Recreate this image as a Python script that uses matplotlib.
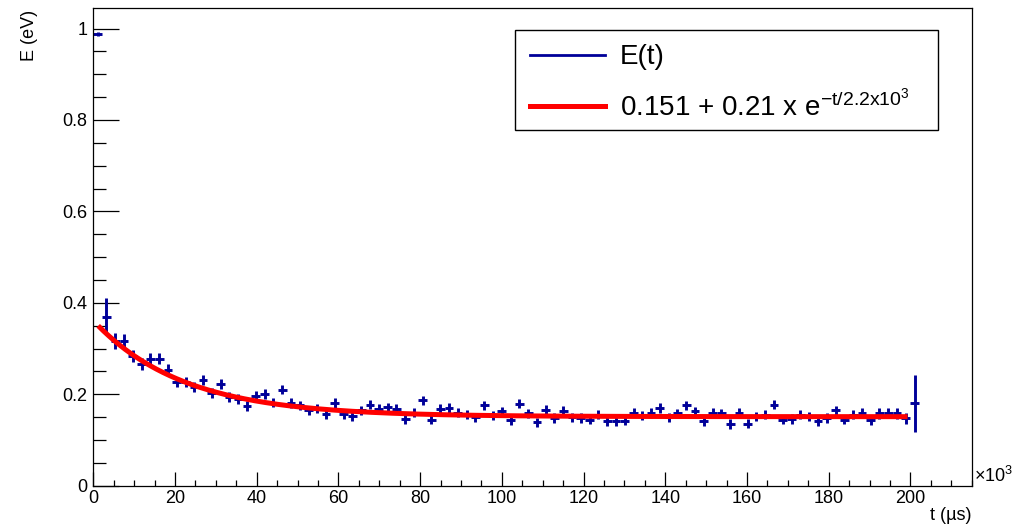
import numpy as np
import matplotlib
matplotlib.use("Agg")
import matplotlib.pyplot as plt
from matplotlib.lines import Line2D
from matplotlib.patches import Rectangle
from matplotlib.ticker import MultipleLocator, FixedLocator

plt.rcParams['font.family'] = ['Liberation Sans', 'DejaVu Sans']
plt.rcParams['mathtext.fontset'] = 'custom'
plt.rcParams['mathtext.rm'] = 'Liberation Sans'
plt.rcParams['mathtext.it'] = 'Liberation Sans'

# Histogram binning (t in units of 10^3 us)
t_min, t_max, n_bins = 0.0, 215.0, 100
bin_width = (t_max - t_min) / n_bins

# Mean energy per filled bin (eV)
energy = [
    0.988, 0.370, 0.316, 0.316, 0.284, 0.267, 0.278, 0.278, 0.254, 0.226,
    0.226, 0.216, 0.231, 0.203, 0.223, 0.194, 0.190, 0.174, 0.196, 0.201,
    0.182, 0.210, 0.181, 0.176, 0.165, 0.168, 0.157, 0.181, 0.157, 0.152,
    0.165, 0.177, 0.168, 0.172, 0.168, 0.146, 0.160, 0.187, 0.144, 0.168,
    0.170, 0.160, 0.155, 0.150, 0.176, 0.153, 0.163, 0.143, 0.179, 0.158,
    0.139, 0.166, 0.148, 0.164, 0.150, 0.148, 0.144, 0.155, 0.141, 0.141,
    0.142, 0.160, 0.154, 0.159, 0.170, 0.150, 0.158, 0.176, 0.163, 0.141,
    0.160, 0.158, 0.135, 0.159, 0.136, 0.152, 0.155, 0.177, 0.144, 0.146,
    0.155, 0.152, 0.141, 0.148, 0.165, 0.144, 0.155, 0.160, 0.143, 0.158,
    0.160, 0.158, 0.148, 0.180,
]
energy_err = [
    0.004, 0.040, 0.018, 0.016, 0.013, 0.013, 0.012, 0.012, 0.012, 0.011,
    0.011, 0.011, 0.011, 0.011, 0.011, 0.011, 0.011, 0.011, 0.011, 0.011,
    0.010, 0.010, 0.010, 0.010, 0.010, 0.010, 0.010, 0.010, 0.010, 0.010,
    0.010, 0.010, 0.010, 0.010, 0.010, 0.010, 0.010, 0.010, 0.010, 0.010,
    0.010, 0.010, 0.010, 0.010, 0.010, 0.010, 0.010, 0.010, 0.010, 0.010,
    0.010, 0.010, 0.010, 0.010, 0.010, 0.010, 0.010, 0.010, 0.010, 0.010,
    0.010, 0.010, 0.010, 0.010, 0.010, 0.010, 0.010, 0.010, 0.010, 0.010,
    0.010, 0.010, 0.010, 0.010, 0.010, 0.010, 0.010, 0.010, 0.010, 0.010,
    0.010, 0.010, 0.010, 0.010, 0.010, 0.010, 0.010, 0.010, 0.010, 0.011,
    0.011, 0.011, 0.012, 0.062,
]

# Fit parameters: offset + amplitude * exp(-t / tau)
fit_offset = 0.151
fit_amplitude = 0.21
fit_tau = 22.0          # in 10^3 us
fit_range = (1.2, 199.3)
fit_label = r"0.151 + 0.21 x e$^{\mathregular{-t/2.2x10^{3}}}$"

x_ticks = [0, 20, 40, 60, 80, 100, 120, 140, 160, 180, 200]
y_ticks = [0, 0.2, 0.4, 0.6, 0.8, 1.0]
y_tick_labels = ["0", "0.2", "0.4", "0.6", "0.8", "1"]

blue = "#000099"
red = "#ff0000"

W, H = 1027, 530
fig = plt.figure(figsize=(W / 100, H / 100), dpi=100)
ax = fig.add_axes([93.3 / W, 1 - 485.7 / H, (971.7 - 93.3) / W, (485.7 - 8) / H])

centers = t_min + bin_width * (np.arange(len(energy)) + 0.5)
ax.errorbar(centers, energy, xerr=bin_width / 2, yerr=energy_err, fmt='none',
            ecolor=blue, elinewidth=2.1, capsize=0, zorder=2)

tf = np.linspace(fit_range[0], fit_range[1], 600)
ax.plot(tf, fit_offset + fit_amplitude * np.exp(-tf / fit_tau),
        color=red, lw=3.6, zorder=3, solid_capstyle='butt')

ax.set_xlim(t_min, t_max)
ax.set_ylim(0, 1.045)

ax.xaxis.set_major_locator(FixedLocator(x_ticks))
ax.xaxis.set_minor_locator(MultipleLocator(5))
ax.yaxis.set_major_locator(FixedLocator(y_ticks))
ax.set_yticklabels(y_tick_labels)
ax.yaxis.set_minor_locator(MultipleLocator(0.05))

ax.tick_params(axis='both', which='both', direction='in', top=False, right=False,
               labelsize=13, width=0.9, color='black')
ax.tick_params(axis='y', which='major', length=19, pad=4)
ax.tick_params(axis='y', which='minor', length=9.5)
ax.tick_params(axis='x', which='major', length=10, pad=3)
ax.tick_params(axis='x', which='minor', length=4.5)
for s in ax.spines.values():
    s.set_linewidth(0.9)
    s.set_color('black')

fig.text(971 / W, 1 - 515 / H, "t (µs)", ha='right', va='center', fontsize=13)
fig.text(30 / W, 1 - 10 / H, "E (eV)", ha='center', va='top', rotation=90, fontsize=13)
fig.text(974 / W, 1 - 476 / H, r"×10$^{\mathregular{3}}$", ha='left', va='center', fontsize=13)

# Legend box
lx0, ly0, lx1, ly1 = 515, 30, 938, 130
fig.add_artist(Rectangle((lx0 / W, 1 - ly1 / H), (lx1 - lx0) / W, (ly1 - ly0) / H,
                         transform=fig.transFigure, facecolor='white',
                         edgecolor='black', lw=1.0, zorder=5))
fig.add_artist(Line2D([530 / W, 605 / W], [1 - 55 / H, 1 - 55 / H],
                      transform=fig.transFigure, color=blue, lw=2.0, zorder=6))
fig.add_artist(Line2D([530 / W, 605 / W], [1 - 106 / H, 1 - 106 / H],
                      transform=fig.transFigure, color=red, lw=3.6, zorder=6))
fig.text(620 / W, 1 - 57 / H, "E(t)", ha='left', va='center', fontsize=20, zorder=7)
fig.text(620 / W, 1 - 106 / H, fit_label, ha='left', va='center', fontsize=20, zorder=7)

fig.savefig("out.png", dpi=100, facecolor='white')
